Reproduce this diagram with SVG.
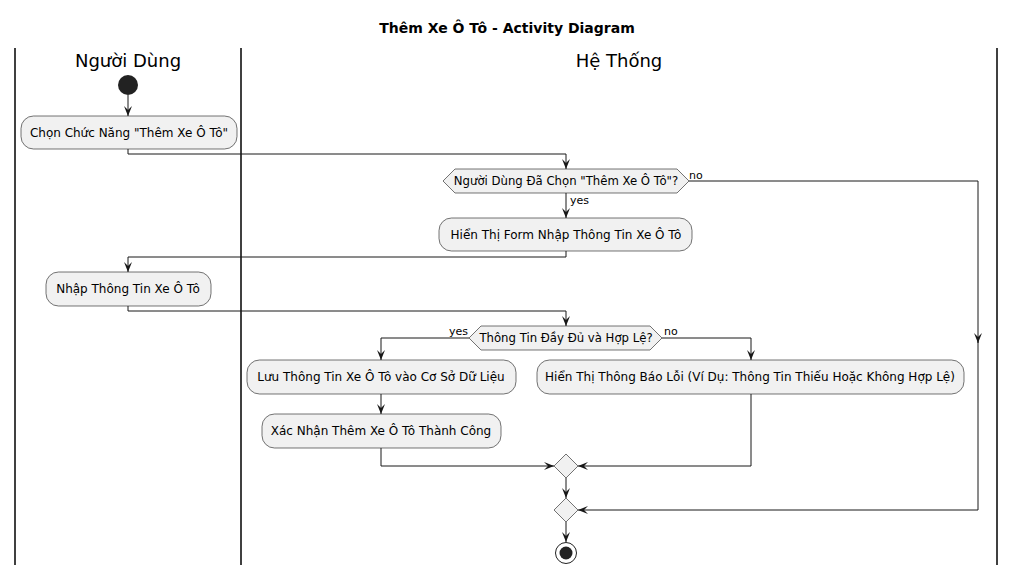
<svg xmlns="http://www.w3.org/2000/svg" width="1016" height="575" viewBox="0 0 1016 575">
<style>
text{font-family:"DejaVu Sans","Liberation Sans",sans-serif;fill:#000}
.title{font-size:14px;font-weight:bold}
.lane{font-size:18px}
.act{font-size:12px}
.dec{font-size:11.7px}
.lbl{font-size:11px}
.box{fill:#F1F1F1;stroke:#181818;stroke-width:0.6}
.lanel{stroke:#000;stroke-width:1.5}
.c{fill:none;stroke:#181818;stroke-width:1}
</style>
<defs>
<marker id="ah" viewBox="0 0 10 8" refX="10" refY="4" markerWidth="10" markerHeight="8" markerUnits="userSpaceOnUse" orient="auto">
<path d="M0,0 L10,4 L0,8 L4,4 Z" fill="#181818"/>
</marker>
</defs>
<rect width="1016" height="575" fill="#fff"/>
<text class="title" x="507" y="33" text-anchor="middle">Thêm Xe Ô Tô - Activity Diagram</text>
<g id="lanes">
<line class="lanel" x1="15" y1="48" x2="15" y2="565"/>
<line class="lanel" x1="241" y1="48" x2="241" y2="565"/>
<line class="lanel" x1="997" y1="48" x2="997" y2="565"/>
<text class="lane" x="128" y="67" text-anchor="middle">Người Dùng</text>
<text class="lane" x="619" y="67" text-anchor="middle">Hệ Thống</text>
</g>
<g id="connectors">
<path class="c" d="M128,95 L128,116" marker-end="url(#ah)"/>
<path class="c" d="M128,149 L128,154 L566,154 L566,169" marker-end="url(#ah)"/>
<path class="c" d="M566,193 L566,218" marker-end="url(#ah)"/>
<text class="lbl" x="570" y="204">yes</text>
<path class="c" d="M566,251 L566,257 L128,257 L128,272" marker-end="url(#ah)"/>
<path class="c" d="M128,306 L128,311 L566,311 L566,326" marker-end="url(#ah)"/>
<path class="c" d="M469,338 L381,338 L381,360" marker-end="url(#ah)"/>
<text class="lbl" x="468" y="335" text-anchor="end">yes</text>
<path class="c" d="M662,338 L751,338 L751,360" marker-end="url(#ah)"/>
<text class="lbl" x="664" y="335">no</text>
<path class="c" d="M381,394 L381,414" marker-end="url(#ah)"/>
<path class="c" d="M381,448 L381,466 L554,466" marker-end="url(#ah)"/>
<path class="c" d="M751,394 L751,466 L578,466" marker-end="url(#ah)"/>
<path class="c" d="M566,478 L566,498" marker-end="url(#ah)"/>
<path class="c" d="M689,181 L978,181 L978,343" marker-end="url(#ah)"/>
<path class="c" d="M978,340 L978,510 L578,510" marker-end="url(#ah)"/>
<text class="lbl" x="689" y="179">no</text>
<path class="c" d="M566,522 L566,542" marker-end="url(#ah)"/>
</g>
<g id="start"><circle cx="128" cy="85" r="10" fill="#222"/></g>
<g id="a1"><rect class="box" x="21" y="116" width="216" height="33" rx="12.5"/><text class="act" x="129" y="137" text-anchor="middle">Chọn Chức Năng "Thêm Xe Ô Tô"</text></g>
<g id="d1"><polygon class="box" points="443,181 455,169 677,169 689,181 677,193 455,193"/><text class="dec" x="566" y="185" text-anchor="middle">Người Dùng Đã Chọn "Thêm Xe Ô Tô"?</text></g>
<g id="a2"><rect class="box" x="439" y="218" width="253" height="33" rx="12.5"/><text class="act" x="566" y="239" text-anchor="middle">Hiển Thị Form Nhập Thông Tin Xe Ô Tô</text></g>
<g id="a3"><rect class="box" x="46" y="272" width="165" height="34" rx="12.5"/><text class="act" x="128" y="293" text-anchor="middle">Nhập Thông Tin Xe Ô Tô</text></g>
<g id="d2"><polygon class="box" points="469,338 481,326 650,326 662,338 650,350 481,350"/><text class="dec" x="566" y="342" text-anchor="middle">Thông Tin Đầy Đủ và Hợp Lệ?</text></g>
<g id="a4"><rect class="box" x="247" y="360" width="269" height="34" rx="12.5"/><text class="act" x="381" y="381" text-anchor="middle">Lưu Thông Tin Xe Ô Tô vào Cơ Sở Dữ Liệu</text></g>
<g id="a5"><rect class="box" x="537" y="360" width="427" height="34" rx="12.5"/><text class="act" x="750" y="381" text-anchor="middle">Hiển Thị Thông Báo Lỗi (Ví Dụ: Thông Tin Thiếu Hoặc Không Hợp Lệ)</text></g>
<g id="a6"><rect class="box" x="262" y="414" width="239" height="34" rx="12.5"/><text class="act" x="381" y="435" text-anchor="middle">Xác Nhận Thêm Xe Ô Tô Thành Công</text></g>
<g id="m1"><polygon class="box" points="566,454 578,466 566,478 554,466"/></g>
<g id="m2"><polygon class="box" points="566,498 578,510 566,522 554,510"/></g>
<g id="end"><circle cx="566" cy="553" r="10.5" fill="#fff" stroke="#222" stroke-width="1"/><circle cx="566" cy="553" r="6.5" fill="#222"/></g>
</svg>
